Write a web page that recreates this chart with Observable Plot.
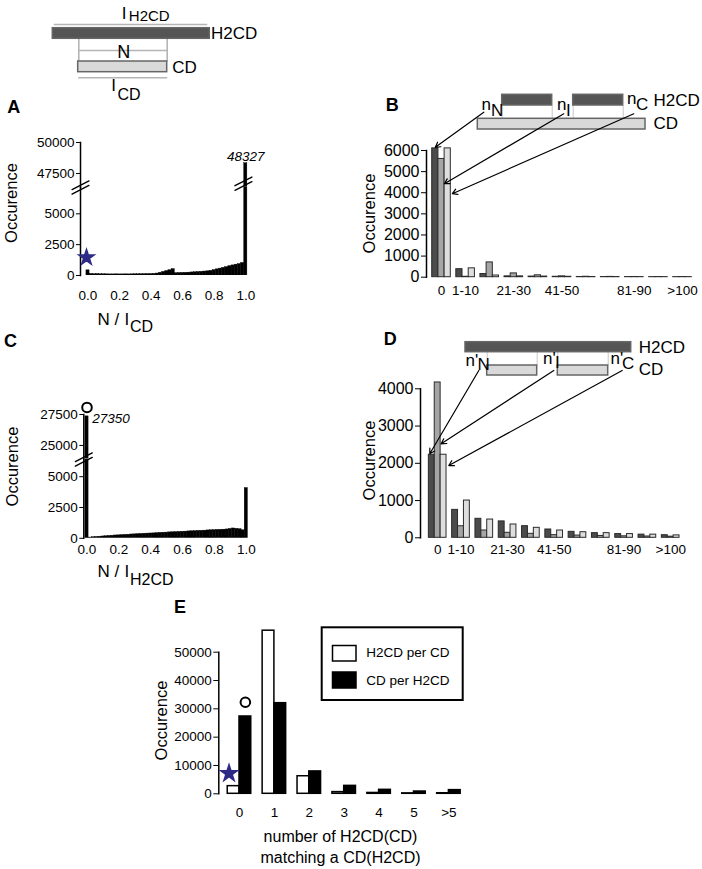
<!DOCTYPE html>
<html><head><meta charset="utf-8">
<script src="https://cdn.jsdelivr.net/npm/d3@7"></script>
<script src="https://cdn.jsdelivr.net/npm/@observablehq/plot@0.6"></script>
<style>
body{margin:0;background:#fff;}
#page{position:relative;width:702px;height:869px;overflow:hidden;background:#fff;}
</style></head><body><div id="page"></div>
<script>
// ---------------- DATA ----------------
// Panel A: histogram of N / I_CD (bin centres 0.00 .. 1.00, step 0.02)
const histA = [420,130,110,120,100,100,95,90,90,95,90,90,95,90,95,100,100,105,110,115,120,130,160,220,290,360,430,520,190,200,210,220,230,250,260,280,300,320,340,380,440,500,560,620,680,760,820,880,930,1020,48327];
// Panel C: histogram of N / I_H2CD
const histC = [27350,60,90,110,130,150,170,190,210,230,240,260,280,290,310,320,340,350,370,380,390,400,420,440,450,460,480,490,500,520,530,540,560,570,580,600,610,620,640,650,660,680,690,700,720,760,800,770,740,650,4080];
const ratioTicks = [0, 0.2, 0.4, 0.6, 0.8, 1.0];
const ticksALow = [0, 2500, 5000];
const ticksAHigh = [47500, 50000];
const ticksCLow = [0, 2500, 5000];
const ticksCHigh = [25000, 27500];
const peakLabelA = "48327";
const peakLabelC = "27350";

// Panels B and D: distance categories
const categoriesBD = ["0","1-10","11-20","21-30","31-40","41-50","51-60","61-70","81-90","91-100",">100"];
const labeledBD = ["0","1-10","21-30","41-50","81-90",">100"];
const seriesBD = ["nN","nI","nC"];
const nN_B = [6100,380,150,40,30,20,10,8,6,5,5];
const nI_B = [5600,20,700,180,90,40,20,15,10,8,8];
const nC_B = [6100,420,80,40,30,20,10,8,6,5,5];
const ticksB = [0,1000,2000,3000,4000,5000,6000];
const nN_D = [2230,750,510,440,312,223,160,125,100,85,70];
const nI_D = [4170,310,196,134,107,71,60,50,40,35,30];
const nC_D = [2230,1000,490,357,268,196,150,125,100,85,65];
const ticksD = [0,1000,2000,3000,4000];

// Panel E
const categoriesE = ["0","1","2","3","4","5",">5"];
const seriesE = ["H2CD per CD","CD per H2CD"];
const h2cdPerCD = [2700,57600,6200,600,300,150,200];
const cdPerH2CD = [27300,32000,7900,2800,1400,800,1300];
const ticksE = [0,10000,20000,30000,40000,50000];

// ---------------- HELPERS ----------------
const FONT = '"Liberation Sans", Arial, Helvetica, sans-serif';
const STYLE = `font-family:${FONT};font-size:13.5px;background:transparent;overflow:visible;color:black;`;
const page = document.getElementById("page");
function place(svg, box) {
  svg.style.position = "absolute";
  svg.style.left = box.left + "px";
  svg.style.top = box.top + "px";
  svg.style.maxWidth = "none";
  page.appendChild(svg);
}
const breakShape = {draw(context, l) { context.moveTo(0, 0); context.lineTo(0, -l); }};
function breakMarks(data, opts) {
  return [-2.3, 2.3].map(dy => Plot.vector(data, {...opts, dy, length: 19, rotate: 63, anchor: "middle", shape: breakShape, stroke: "black", strokeWidth: 1.4}));
}
const histTable = vals => vals.map((v, i) => ({x: i / (vals.length - 1), v}));
const groupedTable = (cats, arrays) => cats.flatMap((c, i) => arrays.map((arr, s) => ({cat: c, i, s, value: arr[i]})));
const colorsBD = ["#4b4b4b", "#a5a5a5", "#dedede"];
const STAR = "#2e2a87";

// Broken-axis histogram: a lower and an upper chart sharing the x scale
function brokenHistogram({vals, xRange, axisX, top, brk, bottom, boxBottom, lowDomain, highDomain, lowTicks, highTicks, tickPadding, lowExtra, highExtra}) {
  const boxHigh = {left: 0, top: top - 22, width: 300, height: brk - (top - 22)};
  const boxLow = {left: 0, top: brk - 6, width: 300, height: boxBottom - (brk - 6)};
  const rects = Plot.rect(histTable(vals), {x1: d => d.x - 0.01, x2: d => d.x + 0.01, y1: () => 0, y2: "v", fill: "black", stroke: "black", strokeWidth: 0.4, clip: true});
  const high = Plot.plot({
    width: boxHigh.width, height: boxHigh.height, style: STYLE,
    marginLeft: axisX, marginRight: 40, marginTop: top - boxHigh.top, marginBottom: 0,
    x: {domain: [0, 1], range: xRange, axis: null},
    y: {domain: highDomain},
    marks: [
      rects,
      Plot.frame({anchor: "left", strokeWidth: 1.5}),
      Plot.axisY({ticks: highTicks, tickSize: 4, tickPadding: 2, tickFormat: "d", label: null}),
      ...highExtra
    ]
  });
  const low = Plot.plot({
    width: boxLow.width, height: boxLow.height, style: STYLE,
    marginLeft: axisX, marginRight: 40, marginTop: brk - boxLow.top, marginBottom: boxBottom - bottom,
    x: {domain: [0, 1], range: xRange},
    y: {domain: lowDomain},
    marks: [
      rects,
      Plot.frame({anchor: "left", strokeWidth: 1.5}),
      Plot.axisY({ticks: lowTicks, tickSize: 4, tickPadding: 2, tickFormat: "d", label: null}),
      Plot.axisX({ticks: ratioTicks, tickSize: 0, tickPadding, tickFormat: ".1f", label: null}),
      ...breakMarks([0], {frameAnchor: "top-left"}),
      ...lowExtra
    ]
  });
  place(high, boxHigh);
  place(low, boxLow);
  return {high, low};
}

// ---------------- PANEL A ----------------
brokenHistogram({
  vals: histA, xRange: [87.5, 245.3], axisX: 80, top: 142.3, brk: 187, bottom: 275, boxBottom: 335,
  lowDomain: [0, 7131], highDomain: [46395, 50000], lowTicks: ticksALow, highTicks: ticksAHigh, tickPadding: 15,
  highExtra: [
    ...breakMarks([{x: 0.985, y: 46677}], {x: "x", y: "y"}),
    Plot.text([{x: 1, y: 48327, t: peakLabelA}], {x: "x", y: "y", text: "t", dy: -6.3, fontStyle: "italic", fontSize: 13.5})
  ],
  lowExtra: [
    Plot.dot([{x: 0, y: 1460}], {x: "x", y: "y", dx: -1.5, symbol: "star", r: 4.8, fill: STAR, stroke: STAR})
  ]
});

// ---------------- PANEL C ----------------
brokenHistogram({
  vals: histC, xRange: [86.5, 245.8], axisX: 83.3, top: 414, brk: 458.5, bottom: 537.3, boxBottom: 600,
  lowDomain: [0, 6395], highDomain: [23905, 27500], lowTicks: ticksCLow, highTicks: ticksCHigh, tickPadding: 6,
  highExtra: [
    Plot.text([{x: 0, y: 27350, t: peakLabelC}], {x: "x", y: "y", text: "t", textAnchor: "start", dx: 5.2, dy: 2.7, fontStyle: "italic", fontSize: 13.5}),
    Plot.dot([{x: 0, y: 28070}], {x: "x", y: "y", r: 4.8, fill: "white", stroke: "black", strokeWidth: 2})
  ],
  lowExtra: []
});

// ---------------- PANELS B & D ----------------
function groupedChart(box, frame, arrays, ticksY, half, bw, tickPadding) {
  return Plot.plot({
    width: box.width, height: box.height, style: STYLE,
    marginLeft: frame.left - box.left, marginRight: 10,
    marginTop: frame.top - box.top, marginBottom: box.top + box.height - frame.bottom,
    x: {domain: [0, 10], range: [frame.x0 - box.left, frame.x10 - box.left]},
    y: {domain: [0, ticksY[ticksY.length - 1]]},
    color: {domain: seriesBD, range: colorsBD},
    marks: [
      Plot.rect(groupedTable(categoriesBD, arrays), {
        x1: d => d.i - half + d.s * bw, x2: d => d.i - half + (d.s + 1) * bw,
        y1: () => 0, y2: "value", fill: d => seriesBD[d.s], stroke: "#2b2b2b", strokeWidth: 1
      }),
      Plot.frame({anchor: "left", strokeWidth: 1.5}),
      Plot.axisY({ticks: ticksY, tickSize: 5, tickPadding: 2, tickFormat: "d", label: null, fontSize: 16}),
      Plot.axisX({ticks: labeledBD.map(c => categoriesBD.indexOf(c)), tickFormat: i => categoriesBD[i], tickSize: 0, tickPadding, label: null})
    ]
  });
}
const PB = {left: 360, top: 130, width: 342, height: 180};
const chartB = groupedChart(PB, {left: 426, top: 150, bottom: 276.7, x0: 441, x10: 682}, [nN_B, nI_B, nC_B], ticksB, 0.385, 0.257, 8);
place(chartB, PB);
const PD = {left: 360, top: 370, width: 342, height: 200};
const chartD = groupedChart(PD, {left: 420, top: 388.3, bottom: 537.3, x0: 437.2, x10: 670.2}, [nN_D, nI_D, nC_D], ticksD, 0.38, 0.253, 7);
place(chartD, PD);

// ---------------- PANEL E ----------------
const PE = {left: 150, top: 630, width: 340, height: 200};
const chartE = Plot.plot({
  width: PE.width, height: PE.height, style: STYLE,
  marginLeft: 218.3 - PE.left, marginRight: 20, marginTop: 651.7 - PE.top, marginBottom: PE.top + PE.height - 793.3,
  x: {domain: [0, 6], range: [239 - PE.left, 448.4 - PE.left]},
  y: {domain: [0, 50000]},
  color: {domain: seriesE, range: ["white", "black"]},
  marks: [
    Plot.rect(groupedTable(categoriesE, [h2cdPerCD, cdPerH2CD]), {
      x1: d => d.i - 0.337 + d.s * 0.337, x2: d => d.i + d.s * 0.337,
      y1: () => 0, y2: "value", fill: d => seriesE[d.s], stroke: "black", strokeWidth: 1.5
    }),
    Plot.frame({anchor: "left", strokeWidth: 1.5}),
    Plot.axisY({ticks: ticksE, tickSize: 5, tickPadding: 2, tickFormat: "d", label: null}),
    Plot.axisX({ticks: d3.range(categoriesE.length), tickFormat: i => categoriesE[i], tickSize: 0, tickPadding: 14, label: null}),
    Plot.dot([{x: -0.3, y: 7200}], {x: "x", y: "y", symbol: "star", r: 5.2, fill: STAR, stroke: STAR}),
    Plot.dot([{x: 0.168, y: 32330}], {x: "x", y: "y", r: 4.8, fill: "white", stroke: "black", strokeWidth: 2})
  ]
});
place(chartE, PE);

// ---------------- OVERLAY: schematics, titles, arrows, legend ----------------
const pageXY = (chart, box, x, y) => [chart.scale("x").apply(x) + box.left, chart.scale("y").apply(y) + box.top];
const arrowSpecs = [
  {chart: chartB, box: PB, from: [483.3, 111.7], x: -0.257, y: 6150},
  {chart: chartB, box: PB, from: [563.3, 113.3], x: 0.12, y: 4427},
  {chart: chartB, box: PB, from: [633.3, 113.3], x: 0.45, y: 3953},
  {chart: chartD, box: PD, from: [478.3, 370], x: -0.34, y: 2255},
  {chart: chartD, box: PD, from: [553.3, 370], x: 0.15, y: 2523},
  {chart: chartD, box: PD, from: [621.7, 370], x: 0.476, y: 1941}
];
const arrows = arrowSpecs.map(a => { const [x2, y2] = pageXY(a.chart, a.box, a.x, a.y); return {x1: a.from[0], y1: a.from[1], x2, y2}; });

const DARK = "#555555", LIGHT = "#d9d9d9";
const schemaRects = [
  {x1: 52.3, x2: 209.3, y1: 27.7, y2: 38.3, f: DARK},
  {x1: 77.7, x2: 166.7, y1: 61, y2: 71.7, f: LIGHT},
  {x1: 501.7, x2: 551.7, y1: 94.3, y2: 105, f: DARK},
  {x1: 572.7, x2: 622.7, y1: 94.3, y2: 105, f: DARK},
  {x1: 477.3, x2: 645, y1: 118.3, y2: 129, f: LIGHT},
  {x1: 465, x2: 630.7, y1: 341.7, y2: 351.7, f: DARK},
  {x1: 486.7, x2: 536.7, y1: 365, y2: 375, f: LIGHT},
  {x1: 557.3, x2: 607.7, y1: 365, y2: 375, f: LIGHT}
];
const grayLines = [
  {x1: 53.3, y1: 24, x2: 206.7, y2: 24},
  {x1: 78.3, y1: 38.3, x2: 78.3, y2: 61},
  {x1: 166.7, y1: 38.3, x2: 166.7, y2: 61},
  {x1: 78.3, y1: 50, x2: 166.7, y2: 50},
  {x1: 77.7, y1: 77.3, x2: 166.7, y2: 77.3}
];
const thinLines = [
  ...[501.7, 551.7, 572.7, 622.7].map(x => ({x1: x, y1: 105, x2: x, y2: 118.3})),
  ...[486.7, 536.7, 557.3, 607.7].map(x => ({x1: x, y1: 351.7, x2: x, y2: 365}))
];
const textsStart = [
  {x: 128.3, y: 15.8, t: "H2CD", fs: 15},
  {x: 210.5, y: 32.7, t: "H2CD", fs: 17},
  {x: 171.7, y: 66.7, t: "CD", fs: 17},
  {x: 117, y: 94.5, t: "CD", fs: 16},
  {x: 97, y: 319, t: "N /", fs: 17},
  {x: 124, y: 319, t: "I", fs: 17},
  {x: 129.5, y: 326, t: "CD", fs: 16},
  {x: 97, y: 571, t: "N /", fs: 17},
  {x: 124, y: 571, t: "I", fs: 17},
  {x: 129.5, y: 579, t: "H2CD", fs: 16},
  {x: 481, y: 104, t: "n", fs: 17},
  {x: 490.5, y: 109.7, t: "N", fs: 17},
  {x: 556.5, y: 104, t: "n", fs: 17},
  {x: 565.5, y: 109.7, t: "I", fs: 17},
  {x: 626.5, y: 98, t: "n", fs: 17},
  {x: 635.5, y: 104, t: "C", fs: 17},
  {x: 653, y: 100, t: "H2CD", fs: 17},
  {x: 653, y: 123.3, t: "CD", fs: 17},
  {x: 465, y: 360, t: "n'", fs: 17},
  {x: 477, y: 364, t: "N", fs: 17},
  {x: 542.5, y: 358, t: "n'", fs: 17},
  {x: 554.5, y: 362, t: "I", fs: 17},
  {x: 610, y: 358, t: "n'", fs: 17},
  {x: 621.5, y: 363, t: "C", fs: 17},
  {x: 638.3, y: 346.7, t: "H2CD", fs: 17},
  {x: 638.3, y: 369, t: "CD", fs: 17},
  {x: 365.7, y: 652.5, t: "H2CD per CD", fs: 13.5},
  {x: 365.7, y: 680, t: "CD per H2CD", fs: 13.5}
];
const textsMiddle = [
  {x: 123.5, y: 13.3, t: "I", fs: 17, r: 0},
  {x: 123.3, y: 51.7, t: "N", fs: 18, r: 0},
  {x: 113, y: 85, t: "I", fs: 17, r: 0},
  {x: 11.7, y: 202.5, t: "Occurence", fs: 16.5, r: -90},
  {x: 369, y: 213, t: "Occurence", fs: 16.5, r: -90},
  {x: 12.5, y: 466, t: "Occurence", fs: 16.5, r: -90},
  {x: 369, y: 460, t: "Occurence", fs: 16.5, r: -90},
  {x: 161, y: 720, t: "Occurence", fs: 16.5, r: -90},
  {x: 340, y: 836.7, t: "number of H2CD(CD)", fs: 16, r: 0},
  {x: 340, y: 857, t: "matching a CD(H2CD)", fs: 16, r: 0}
];
const panelLetters = [
  {x: 13.3, y: 106.7, t: "A"}, {x: 391.7, y: 105, t: "B"}, {x: 10, y: 341, t: "C"},
  {x: 389.7, y: 339, t: "D"}, {x: 179.5, y: 607, t: "E"}
];
const legendBox = [{x1: 321.7, x2: 462.7, y1: 627.3, y2: 700}];
const legendSwatches = [
  {x1: 332.5, x2: 356, y1: 645.5, y2: 661, f: "white"},
  {x1: 332.5, x2: 356, y1: 672, y2: 688, f: "black"}
];

const overlay = Plot.plot({
  width: 702, height: 869, margin: 0, style: STYLE,
  x: {type: "identity", axis: null}, y: {type: "identity", axis: null},
  marks: [
    Plot.link(grayLines, {x1: "x1", y1: "y1", x2: "x2", y2: "y2", stroke: "#b5b5b5", strokeWidth: 1.6}),
    Plot.link(thinLines, {x1: "x1", y1: "y1", x2: "x2", y2: "y2", stroke: "#c8c8c8", strokeWidth: 1}),
    Plot.rect(schemaRects, {x1: "x1", x2: "x2", y1: "y1", y2: "y2", fill: "f", stroke: "#666666", strokeWidth: 1.5}),
    Plot.arrow(arrows, {x1: "x1", y1: "y1", x2: "x2", y2: "y2", stroke: "black", strokeWidth: 1.2, headLength: 7}),
    Plot.rect(legendBox, {x1: "x1", x2: "x2", y1: "y1", y2: "y2", fill: "none", stroke: "black", strokeWidth: 2}),
    Plot.rect(legendSwatches, {x1: "x1", x2: "x2", y1: "y1", y2: "y2", fill: "f", stroke: "black", strokeWidth: 1.5}),
    Plot.text(textsStart, {x: "x", y: "y", text: "t", fontSize: "fs", textAnchor: "start", fill: "black"}),
    Plot.text(textsMiddle, {x: "x", y: "y", text: "t", fontSize: "fs", rotate: "r", fill: "black"}),
    Plot.text(panelLetters, {x: "x", y: "y", text: "t", fontSize: 18, fontWeight: "bold", fill: "black"})
  ]
});
place(overlay, {left: 0, top: 0});
overlay.style.pointerEvents = "none";
</script></body></html>
